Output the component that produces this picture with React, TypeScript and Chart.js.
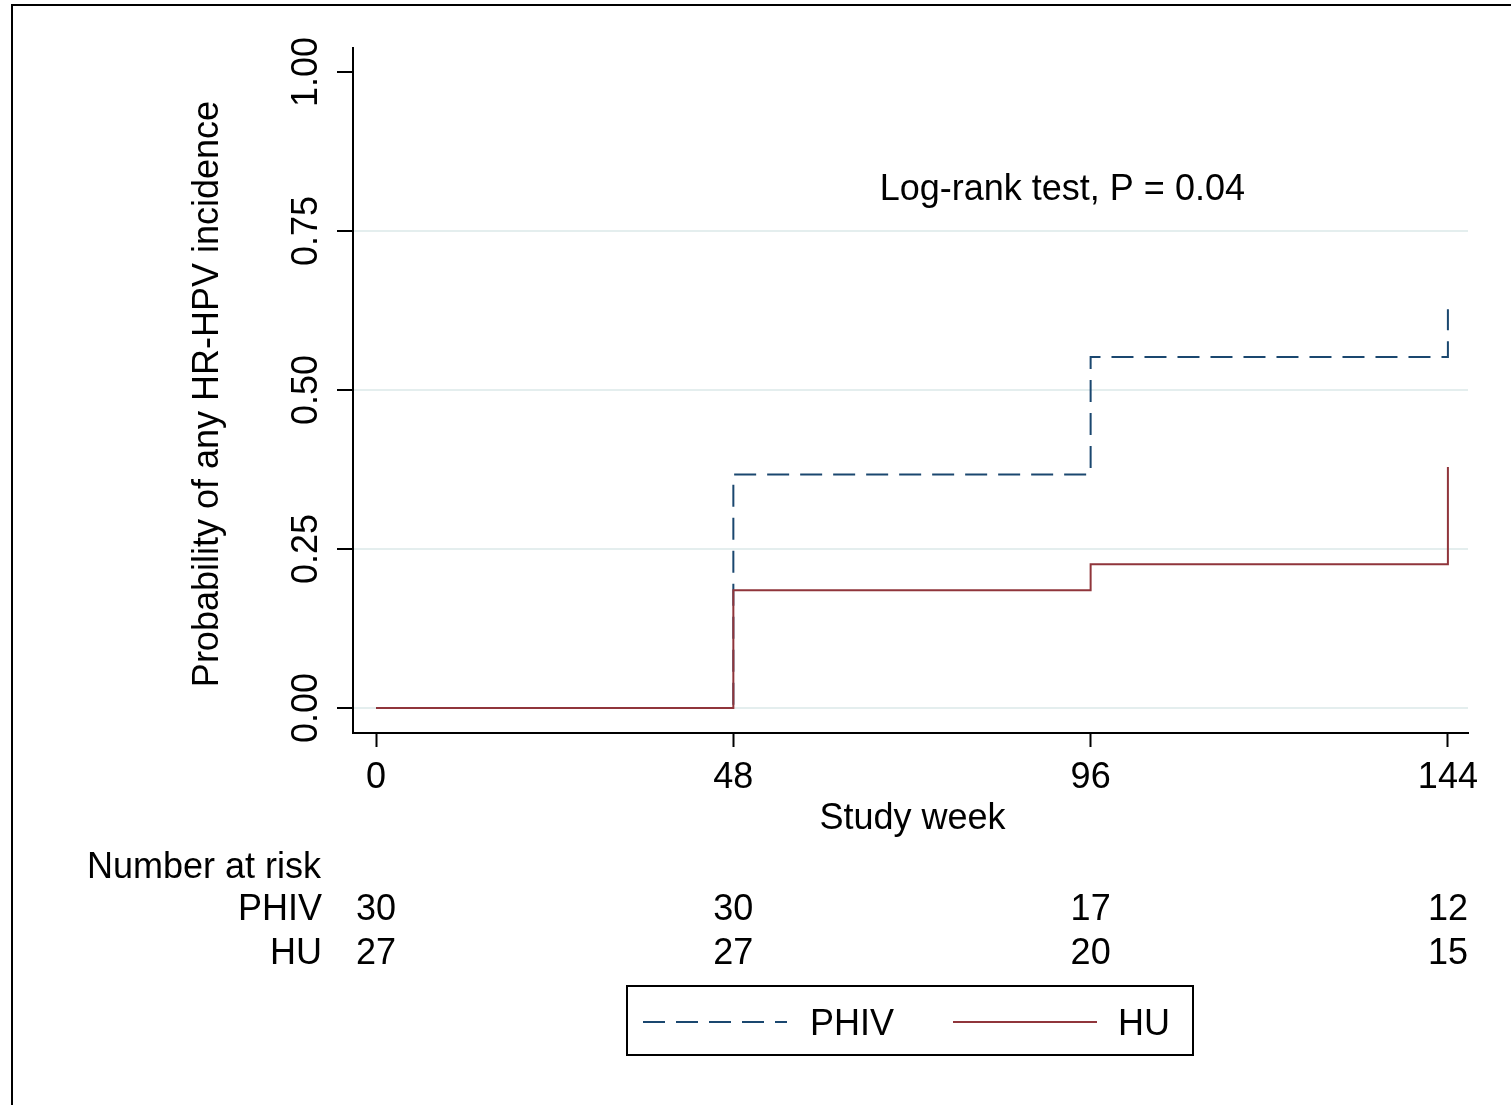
import React, { useEffect, useRef } from "react";
import { Chart, registerables } from "chart.js";

Chart.register(...registerables);

// ---- Data ----
const weeks = [0, 48, 96, 144];
const phivProb = [0, 0.367, 0.552, 0.627];
const huProb = [0, 0.185, 0.226, 0.379];
const yTicks = [0, 0.25, 0.5, 0.75, 1];
const yTickLabels = ["0.00", "0.25", "0.50", "0.75", "1.00"];
const xTickLabels = ["0", "48", "96", "144"];
const seriesNames = ["PHIV", "HU"];
const phivAtRisk = [30, 30, 17, 12];
const huAtRisk = [27, 27, 20, 15];
const annotationText = "Log-rank test, P = 0.04";
const yTitle = "Probability of any HR-HPV incidence";
const xTitle = "Study week";
const riskTitle = "Number at risk";

const FONT = '"Liberation Sans", Arial, Helvetica, sans-serif';
const PHIV_COLOR = "#1a476f";
const HU_COLOR = "#90353b";
const DASH = [22, 11];
const TEXT = "#000";

const overlay = {
  id: "overlay",
  beforeDraw(chart: any) {
    const ctx = chart.ctx;
    ctx.save();
    ctx.fillStyle = "#fff";
    ctx.fillRect(0, 0, chart.width, chart.height);
    ctx.strokeStyle = "#000";
    ctx.lineWidth = 2;
    ctx.beginPath();
    ctx.moveTo(12, chart.height + 5);
    ctx.lineTo(12, 5);
    ctx.lineTo(chart.width + 5, 5);
    ctx.stroke();
    ctx.restore();
  },
  afterDraw(chart: any) {
    const ctx = chart.ctx;
    const x = chart.scales.x;
    const y = chart.scales.y;
    ctx.save();
    ctx.fillStyle = TEXT;
    ctx.font = `36px ${FONT}`;

    // y tick labels (rotated)
    y.ticks.forEach((t: any, i: number) => {
      const py = y.getPixelForValue(t.value);
      ctx.save();
      ctx.translate(307, py);
      ctx.rotate(-Math.PI / 2);
      ctx.textAlign = "center";
      ctx.textBaseline = "middle";
      ctx.fillText(yTickLabels[i] ?? String(t.value), 0, 0);
      ctx.restore();
    });

    // y title
    ctx.save();
    ctx.translate(208, 394);
    ctx.rotate(-Math.PI / 2);
    ctx.textAlign = "center";
    ctx.textBaseline = "middle";
    ctx.fillText(yTitle, 0, 0);
    ctx.restore();

    // x title
    ctx.textAlign = "center";
    ctx.textBaseline = "middle";
    ctx.fillText(xTitle, (chart.chartArea.left + chart.chartArea.right) / 2 + 2, 819);

    // annotation
    ctx.fillText(annotationText, x.getPixelForValue(92.2), y.getPixelForValue(0.819) + 3);

    // number at risk
    ctx.textAlign = "left";
    ctx.fillText(riskTitle, 87, 868);
    ctx.textAlign = "right";
    ctx.fillText(seriesNames[0], 322, 910);
    ctx.fillText(seriesNames[1], 322, 954);
    ctx.textAlign = "center";
    weeks.forEach((w, i) => {
      const px = x.getPixelForValue(w);
      ctx.fillText(String(phivAtRisk[i]), px, 910);
      ctx.fillText(String(huAtRisk[i]), px, 954);
    });

    // legend
    ctx.strokeStyle = "#000";
    ctx.lineWidth = 2;
    ctx.strokeRect(627, 986, 566, 69);
    const ds = chart.data.datasets;
    const items = [
      { sx: 643, ex: 787, tx: 810, d: ds[0] },
      { sx: 953, ex: 1097, tx: 1118, d: ds[1] },
    ];
    items.forEach((it) => {
      ctx.save();
      ctx.strokeStyle = it.d.borderColor;
      ctx.lineWidth = 2;
      ctx.setLineDash(it.d.borderDash || []);
      ctx.beginPath();
      ctx.moveTo(it.sx, 1022);
      ctx.lineTo(it.ex, 1022);
      ctx.stroke();
      ctx.restore();
      ctx.textAlign = "left";
      ctx.fillStyle = TEXT;
      ctx.fillText(it.d.label, it.tx, 1025);
    });

    ctx.restore();
  },
};

export default function App() {
  const ref = useRef<HTMLCanvasElement>(null);
  useEffect(() => {
    const canvas = ref.current!;
    const chart = new Chart(canvas, {
      type: "line",
      data: {
        datasets: [
          {
            label: seriesNames[0],
            data: weeks.map((w, i) => ({ x: w, y: phivProb[i] })),
            borderColor: PHIV_COLOR,
            borderWidth: 2,
            borderDash: DASH,
            borderDashOffset: 2.5,
            borderCapStyle: "butt",
            stepped: "before",
            pointRadius: 0,
            fill: false,
            order: 1,
          },
          {
            label: seriesNames[1],
            data: weeks.map((w, i) => ({ x: w, y: huProb[i] })),
            borderColor: HU_COLOR,
            borderWidth: 2,
            stepped: "before",
            pointRadius: 0,
            fill: false,
            order: 0,
          },
        ],
      },
      options: {
        animation: false,
        responsive: false,
        devicePixelRatio: 1,
        layout: { padding: { left: 0, top: 48, right: 43, bottom: 0 } },
        plugins: {
          legend: { display: false },
          tooltip: { enabled: false },
          title: { display: false },
        },
        scales: {
          x: {
            type: "linear",
            min: -3.1,
            max: 146.7,
            afterBuildTicks: (s: any) => {
              s.ticks = weeks.map((v) => ({ value: v }));
            },
            afterFit: (s: any) => {
              s.height = 372;
            },
            ticks: {
              autoSkip: false,
              maxRotation: 0,
              minRotation: 0,
              padding: 9,
              color: TEXT,
              font: { family: FONT, size: 36 },
              callback: (v: any) => {
                const i = weeks.indexOf(Number(v));
                return i >= 0 ? xTickLabels[i] : String(v);
              },
            },
            grid: {
              drawOnChartArea: false,
              drawTicks: true,
              tickLength: 14,
              tickColor: "#000",
              tickWidth: 2,
            },
            border: { display: true, color: "#000", width: 2 },
          },
          y: {
            type: "linear",
            min: -0.0393,
            max: 1.0377,
            afterBuildTicks: (s: any) => {
              s.ticks = yTicks.map((v) => ({ value: v }));
            },
            afterFit: (s: any) => {
              s.width = 353;
            },
            ticks: { display: false },
            grid: {
              color: (c: any) =>
                c.tick && c.tick.value === 1 ? "rgba(0,0,0,0)" : "#e4eeee",
              lineWidth: 2,
              drawTicks: true,
              tickLength: 16,
              tickColor: "#000",
              tickWidth: 2,
            },
            border: { display: true, color: "#000", width: 2 },
          },
        },
      } as any,
      plugins: [overlay],
    });
    return () => chart.destroy();
  }, []);
  return (
    <div style={{ position: "absolute", left: 0, top: 0, width: 1511, height: 1105 }}>
      <canvas ref={ref} width={1511} height={1105} style={{ display: "block" }} />
    </div>
  );
}
